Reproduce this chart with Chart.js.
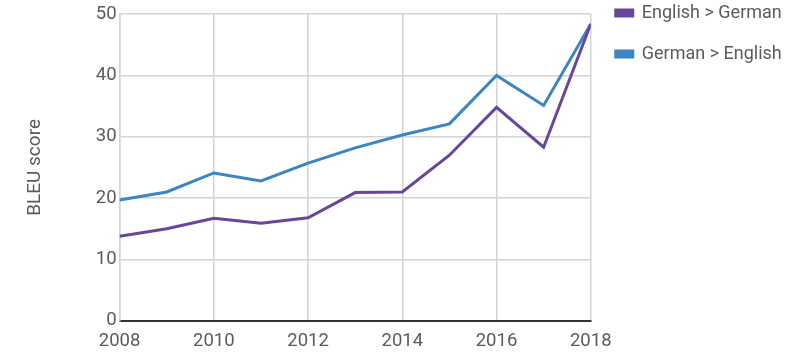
<!DOCTYPE html>
<html>
<head>
<meta charset="utf-8">
<script src="https://cdn.jsdelivr.net/npm/chart.js@4.4.0/dist/chart.umd.min.js"></script>
<style>
  html, body { margin: 0; padding: 0; background: #fff; }
  #wrap { width: 800px; height: 354px; position: relative; }
</style>
</head>
<body>
<div id="wrap"><canvas id="chart"></canvas></div>
<script>
const years = [2008, 2009, 2010, 2011, 2012, 2013, 2014, 2015, 2016, 2017, 2018];
const enToDe = [13.8, 15.0, 16.7, 15.9, 16.8, 20.9, 21.0, 27.0, 34.8, 28.3, 48.4];
const deToEn = [19.7, 21.0, 24.1, 22.8, 25.7, 28.2, 30.3, 32.1, 40.0, 35.1, 48.4];
const seriesLabels = ["English > German", "German > English"];
const seriesColors = ["#68479b", "#3b86c2"];

const textColor = "#5b5b5b";
const gridColor = "#d4d4d4";

// сдвигаем легенду вверх и чуть вправо
const legendShift = {
  id: "legendShift",
  afterLayout(chart) {
    const lg = chart.legend;
    if (!lg) return;
    lg.top -= 19;
    lg.bottom -= 19;
    lg.left += 2;
    lg.right += 2;
  },
};

function toPoints(values) {
  return values.map((v, i) => ({ x: years[i], y: v }));
}

new Chart(document.getElementById("chart"), {
  type: "line",
  data: {
    datasets: [
      {
        label: seriesLabels[0],
        data: toPoints(enToDe),
        borderColor: seriesColors[0],
        backgroundColor: seriesColors[0],
        borderWidth: 3,
        pointRadius: 0,
        tension: 0,
        fill: false,
      },
      {
        label: seriesLabels[1],
        data: toPoints(deToEn),
        borderColor: seriesColors[1],
        backgroundColor: seriesColors[1],
        borderWidth: 3,
        pointRadius: 0,
        tension: 0,
        fill: false,
      },
    ],
  },
  options: {
    responsive: true,
    maintainAspectRatio: false,
    animation: false,
    layout: { padding: { left: 20, right: 19, top: 0, bottom: -7 } },
    scales: {
      x: {
        type: "linear",
        min: 2008,
        max: 2018,
        ticks: {
          stepSize: 2,
          color: textColor,
          font: { family: "Roboto", size: 18.5 },
          padding: 9,
          maxRotation: 0,
          callback: (v) => String(v),
        },
        grid: { color: gridColor, lineWidth: 1.5, drawTicks: false },
        border: { color: "#333", width: 2 },
      },
      y: {
        min: 0,
        max: 50,
        ticks: {
          stepSize: 10,
          color: textColor,
          font: { family: "Roboto", size: 18.5 },
          padding: 3,
        },
        grid: {
          color: (ctx) => (ctx.tick && ctx.tick.value === 0 ? "rgba(0,0,0,0)" : gridColor),
          lineWidth: 1.5,
          drawTicks: false,
        },
        border: { color: gridColor, width: 1.5 },
        title: {
          display: true,
          text: "BLEU score",
          color: textColor,
          font: { family: "Roboto", size: 19 },
          padding: { top: 4, bottom: 46 },
        },
      },
    },
    plugins: {
      legend: {
        position: "right",
        align: "start",
        labels: {
          boxWidth: 17,
          boxHeight: 6,
          padding: 23,
          color: textColor,
          font: { family: "Roboto", size: 18 },
        },
      },
      tooltip: { enabled: false },
    },
  },
  plugins: [legendShift],
});
</script>
</body>
</html>
